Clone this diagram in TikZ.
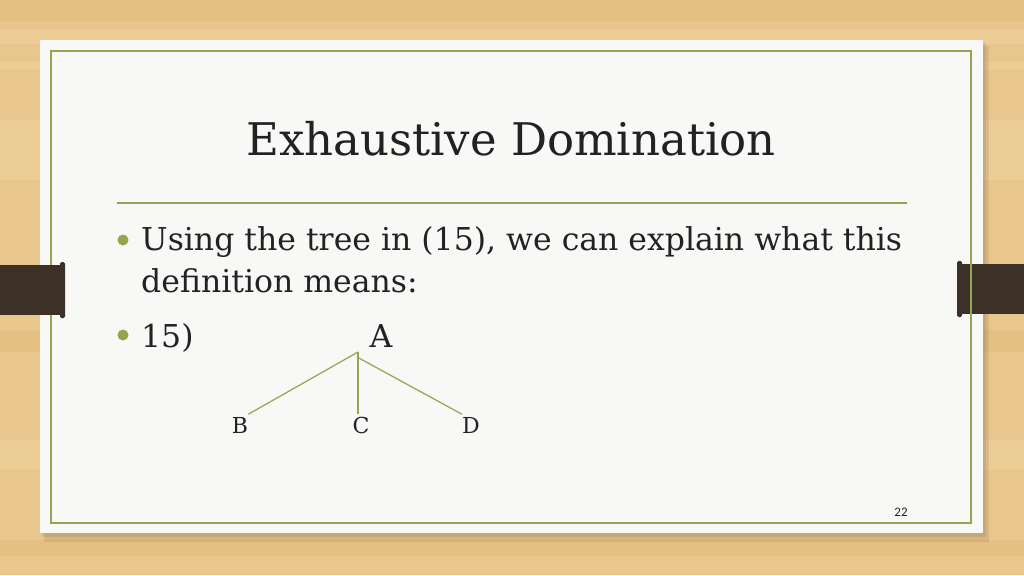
\documentclass[tikz,border=0pt]{standalone}
\usepackage{fontspec}
\setmainfont{DejaVu Serif}
\newfontfamily\pagefont{Carlito}
\definecolor{wood}{RGB}{233,199,140}
\definecolor{woodlight}{RGB}{239,209,156}
\definecolor{wooddark}{RGB}{227,188,126}
\definecolor{paper}{RGB}{248,248,247}
\definecolor{leaf}{RGB}{146,166,78}
\definecolor{ink}{RGB}{34,34,34}
\definecolor{tabbrown}{RGB}{60,48,39}

\begin{document}
\begin{tikzpicture}[x=1pt,y=-1pt,
slidetext/.style={text=ink,inner sep=0pt},
bodytext/.style={slidetext,anchor=base west,font=\fontsize{31.5}{38}\selectfont},
bullet/.style={circle,fill=leaf,inner sep=0pt,minimum size=11pt},
leaflabel/.style={text=ink,inner xsep=0pt,inner ysep=2.5pt,font=\fontsize{22}{26}\selectfont},
branch/.style={leaf,line width=1.2pt}]
% wood background
\fill[wood] (0,0) rectangle (1024,575);
\foreach \ya/\yb/\c in {0/22/wooddark,30/44/woodlight,62/70/woodlight,120/180/woodlight,
  330/352/wooddark,440/470/woodlight,540/556/wooddark}
  \fill[\c,opacity=0.6] (0,\ya) rectangle (1024,\yb);
\useasboundingbox (0,0) rectangle (1024,575);

% paper with shadow
\fill[black,opacity=0.08] (44,46) rectangle (989,542);
\fill[black,opacity=0.08] (42,43) rectangle (986,537);
\fill[paper] (40,40) rectangle (983,533);
\draw[leaf,line width=1.6pt] (51,51) rectangle (971,523);

% tabs
\fill[tabbrown] (0,265) rectangle (63,315);
\fill[tabbrown,rounded corners=1.5pt] (60,262) rectangle (65,318);
\fill[tabbrown] (959,264) rectangle (1024,314);
\fill[tabbrown,rounded corners=1.5pt] (957,261) rectangle (962,317);
\draw[leaf,line width=1.6pt] (971,251) -- (971,330);

% title
\node (title) [slidetext,anchor=base,font=\fontsize{45}{54}\selectfont] at (511,155) {Exhaustive Domination};
\draw[leaf,line width=1.4pt] (117,203) -- (907,203);

% bullets
\node (bul1) [bullet] at (123,240) {};
\node (bul2) [bullet] at (123,335) {};
\node (line1) [bodytext] at (141,250) {Using the tree in (15), we can explain what this};
\node (line2) [bodytext] at (141,292) {definition means:};
\node (ex15) [bodytext] at (141,347) {15)};

% tree
\node (nA) [slidetext,anchor=base,font=\fontsize{31.5}{38}\selectfont] at (381,347) {A};
\node (nB) [leaflabel,anchor=base] at (240,433) {B};
\node (nC) [leaflabel,anchor=base] at (361,433) {C};
\node (nD) [leaflabel,anchor=base] at (471,433) {D};
\coordinate (top) at (358,352);
\coordinate (topD) at (357,357);
\draw[branch] (top) -- (nB.north east);
\draw[branch] (top) -- (top |- nC.north);
\draw[branch] (topD) -- (nD.north west);

% slide number
\node (pgno) [slidetext,anchor=base,font=\pagefont\fontsize{13}{15}\selectfont] at (901,516) {22};
\end{tikzpicture}
\end{document}
